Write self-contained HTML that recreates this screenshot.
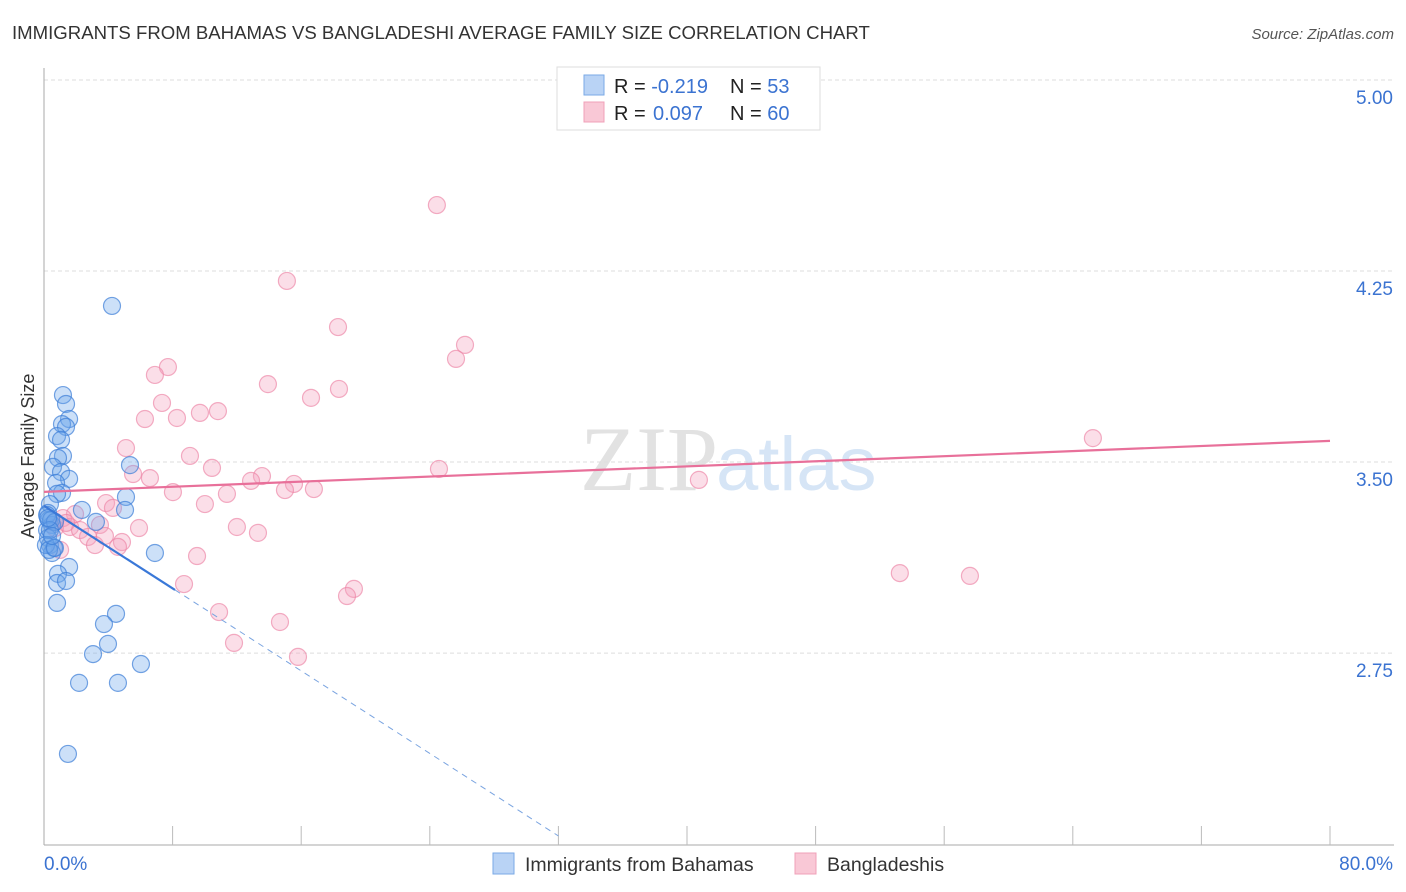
<!DOCTYPE html>
<html><head><meta charset="utf-8"><style>
body{margin:0;background:#fff;font-family:"Liberation Sans",sans-serif;}
#wrap{position:relative;width:1406px;height:892px;overflow:hidden;}
</style></head><body>
<div id="wrap">
<svg id="svg" width="1406" height="892" xmlns="http://www.w3.org/2000/svg">
<text x="12" y="39" font-size="18.6" fill="#333">IMMIGRANTS FROM BAHAMAS VS BANGLADESHI AVERAGE FAMILY SIZE CORRELATION CHART</text>
<text x="1394" y="39" font-size="15" fill="#555" font-style="italic" text-anchor="end">Source: ZipAtlas.com</text>
<text x="718" y="490" font-size="92" fill="#e2e2e2" text-anchor="end" font-family="Liberation Serif,serif">ZIP</text>
<text x="716" y="490" font-size="76" fill="#d6e5f6">atlas</text>
<g id="grid"></g>
<g id="axes"></g>
<g id="pts"></g>
<g id="trend"></g>
<text transform="translate(34,456) rotate(-90)" font-size="18" fill="#333" text-anchor="middle">Average Family Size</text>
<g>
<rect x="557" y="67" width="263" height="63" fill="#fff" stroke="#ddd"/>
<rect x="584" y="75" width="20" height="20" fill="#b9d3f5" stroke="#7aaae6"/>
<rect x="584" y="102" width="20" height="20" fill="#f9c8d6" stroke="#f0a0b8"/>
<text x="614" y="93" font-size="20" fill="#222">R = <tspan fill="#3b73d1">-0.219</tspan><tspan x="730">N = </tspan><tspan fill="#3b73d1">53</tspan></text>
<text x="614" y="120" font-size="20" fill="#222">R = <tspan fill="#3b73d1" x="653">0.097</tspan><tspan x="730">N = </tspan><tspan fill="#3b73d1">60</tspan></text>
</g>
<g>
<rect x="493" y="853" width="21" height="21" fill="#b9d3f5" stroke="#7aaae6"/>
<text x="525" y="871" font-size="19.5" fill="#333">Immigrants from Bahamas</text>
<rect x="795" y="853" width="21" height="21" fill="#f9c8d6" stroke="#f0a0b8"/>
<text x="827" y="871" font-size="19.5" fill="#333">Bangladeshis</text>
</g>
</svg>
</div>
<script>
const yTicks=[5.00,4.25,3.50,2.75];
const xTickLabels=["0.0%","80.0%"];
const blueX=[4.23,1.18,1.37,1.56,1.12,1.37,0.81,1.06,1.18,0.87,0.56,1.06,1.56,0.75,1.12,0.81,2.36,5.10,5.04,3.23,0.37,0.25,0.31,0.50,0.19,0.25,0.37,0.62,0.50,5.35,6.90,1.56,0.87,0.81,1.37,0.81,4.48,3.73,3.98,3.05,6.03,2.18,4.60,1.49,0.19,0.44,0.68,0.37,0.12,0.31,0.68,0.25,0.50];
const blueY=[4.113,3.763,3.728,3.669,3.649,3.638,3.602,3.587,3.524,3.516,3.481,3.461,3.434,3.418,3.379,3.375,3.312,3.363,3.312,3.265,3.335,3.300,3.273,3.253,3.233,3.202,3.174,3.163,3.143,3.488,3.143,3.088,3.061,3.025,3.033,2.947,2.904,2.864,2.786,2.746,2.707,2.633,2.633,2.354,3.292,3.273,3.265,3.233,3.174,3.155,3.163,3.280,3.210];
const pinkX=[24.44,15.11,18.29,26.19,25.63,7.71,6.90,13.93,18.35,16.61,7.34,10.82,9.70,8.27,6.28,5.10,9.08,10.45,13.56,24.57,65.25,40.74,5.54,6.59,12.88,15.55,8.02,11.38,14.99,16.79,10.01,3.86,4.29,5.91,12.00,13.31,1.93,1.18,0.68,1.62,2.24,3.48,2.74,3.17,4.85,4.60,1.00,9.52,8.71,10.89,14.68,11.82,15.80,19.28,18.85,53.24,57.60,0.68,1.37,3.79];
const pinkY=[4.509,4.211,4.030,3.960,3.905,3.873,3.842,3.806,3.787,3.752,3.732,3.700,3.693,3.673,3.669,3.555,3.524,3.477,3.445,3.473,3.594,3.430,3.453,3.437,3.426,3.414,3.382,3.375,3.390,3.394,3.335,3.339,3.320,3.241,3.245,3.222,3.296,3.280,3.265,3.245,3.233,3.253,3.206,3.174,3.186,3.167,3.155,3.131,3.021,2.911,2.872,2.790,2.735,3.002,2.974,3.064,3.053,3.241,3.261,3.210];
const pinkTrend=[[0,3.383],[80,3.583]];
const blueTrendSolid=[[0,3.328],[8.15,2.998]];
const blueTrendDash=[[8.15,2.998],[32,2.032]];
const NS="http://www.w3.org/2000/svg";
const X=v=>44+v*(1286/80);
const Y=v=>80+(5-v)*254.7;
function mk(tag,attrs,parent){const e=document.createElementNS(NS,tag);for(const k in attrs)e.setAttribute(k,attrs[k]);parent.appendChild(e);return e;}
const grid=document.getElementById('grid'),axes=document.getElementById('axes'),pts=document.getElementById('pts'),tr=document.getElementById('trend');
yTicks.forEach(t=>{
 const l=mk('line',{x1:44,x2:1394,y1:Y(t),y2:Y(t),stroke:'#ddd','stroke-dasharray':'4,3'},grid);
 
 
 const tx=mk('text',{x:1393,y:Y(t)+24,'font-size':19,fill:'#3b73d1','text-anchor':'end'},grid);
 tx.textContent=t.toFixed(2);
 
 
});
let a=mk('line',{x1:44,x2:44,y1:68,y2:845,stroke:'#aaa'},axes);


a=mk('line',{x1:44,x2:1394,y1:845,y2:845,stroke:'#aaa'},axes);


for(let i=1;i<=10;i++){const t=mk('line',{x1:X(i*8),x2:X(i*8),y1:826,y2:845,stroke:'#bbb'},axes);
 
 }
[[0,'start',44],[80,'end',1393]].forEach((d,i)=>{const t=mk('text',{x:d[2],y:870,'font-size':19,fill:'#3b73d1','text-anchor':d[1]},axes);t.textContent=xTickLabels[i];
 
 });
pinkX.forEach((x,i)=>{const c=mk('circle',{cx:X(x),cy:Y(pinkY[i]),r:8.5,fill:'rgba(243,160,188,0.35)',stroke:'rgba(236,130,165,0.65)','stroke-width':1.2},pts);
 
 });
blueX.forEach((x,i)=>{const c=mk('circle',{cx:X(x),cy:Y(blueY[i]),r:8.5,fill:'rgba(110,165,235,0.35)',stroke:'rgba(60,125,215,0.7)','stroke-width':1.2},pts);
 
 });
function line(p,attrs,name){const l=mk('line',Object.assign({x1:X(p[0][0]),y1:Y(p[0][1]),x2:X(p[1][0]),y2:Y(p[1][1])},attrs),tr);
 
 }
line(pinkTrend,{stroke:'#e8709a','stroke-width':2.2},'bangladeshi-trendline');
line(blueTrendSolid,{stroke:'#3a78d8','stroke-width':2.2},'bahamas-trendline');
line(blueTrendDash,{stroke:'#7aa4e0','stroke-width':1,'stroke-dasharray':'6,5'},'bahamas-trendline-extension');
</script>
</body></html>
